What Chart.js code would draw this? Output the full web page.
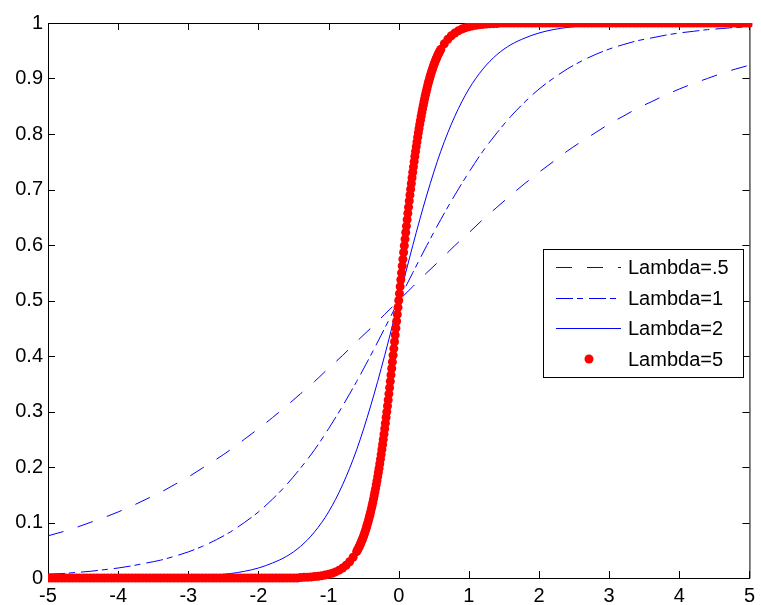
<!DOCTYPE html>
<html>
<head>
<meta charset="utf-8">
<script src="https://cdn.jsdelivr.net/npm/chart.js@4.4.1/dist/chart.umd.min.js"></script>
<style>
  html, body { margin: 0; padding: 0; background: #fff; }
  #wrap { width: 761px; height: 605px; }
</style>
</head>
<body>
<div id="wrap"><canvas id="chartSigmoid" width="761" height="605"></canvas></div>
<script>
// x samples for the three blue curves
const xs = [-5,-4.8,-4.6,-4.4,-4.2,-4,-3.8,-3.6,-3.4,-3.2,-3,-2.8,-2.6,-2.4,-2.2,-2,-1.8,-1.6,-1.4,-1.2,-1,-0.8,-0.6,-0.4,-0.2,
  0,0.2,0.4,0.6,0.8,1,1.2,1.4,1.6,1.8,2,2.2,2.4,2.6,2.8,3,3.2,3.4,3.6,3.8,4,4.2,4.4,4.6,4.8,5];

const lambdaHalf = [
  0.076,0.083,0.091,0.100,0.109,0.119,0.130,0.142,0.154,0.168,
  0.182,0.198,0.214,0.231,0.250,0.269,0.289,0.310,0.332,0.354,
  0.378,0.401,0.426,0.450,0.475,0.500,0.525,0.550,0.574,0.599,
  0.622,0.646,0.668,0.690,0.711,0.731,0.750,0.769,0.786,0.802,
  0.818,0.832,0.846,0.858,0.870,0.881,0.891,0.900,0.909,0.917,
  0.924];

const lambdaOne = [
  0.007,0.008,0.010,0.012,0.015,0.018,0.022,0.027,0.032,0.039,
  0.047,0.057,0.069,0.083,0.100,0.119,0.142,0.168,0.198,0.231,
  0.269,0.310,0.354,0.401,0.450,0.500,0.550,0.599,0.646,0.690,
  0.731,0.769,0.802,0.832,0.858,0.881,0.900,0.917,0.931,0.943,
  0.953,0.961,0.968,0.973,0.978,0.982,0.985,0.988,0.990,0.992,
  0.993];

const lambdaTwo = [
  0,0.0001,0.0001,0.0002,0.0002,0.0003,0.0005,0.0007,0.0011,0.0017,
  0.0025,0.0037,0.0055,0.008,0.012,0.018,0.027,0.039,0.057,0.083,
  0.119,0.168,0.231,0.310,0.401,0.500,0.599,0.690,0.769,0.832,
  0.881,0.917,0.943,0.961,0.973,0.982,0.988,0.992,0.9945,0.9963,
  0.9975,0.9983,0.9989,0.9993,0.9995,0.9997,1,1,1,1,
  1];

// red dots (Lambda=5), denser around the centre
const redX = [
  -5,-4.95,-4.9,-4.85,-4.8,-4.75,-4.7,-4.65,-4.6,-4.55,
  -4.5,-4.45,-4.4,-4.35,-4.3,-4.25,-4.2,-4.15,-4.1,-4.05,
  -4,-3.95,-3.9,-3.85,-3.8,-3.75,-3.7,-3.65,-3.6,-3.55,
  -3.5,-3.45,-3.4,-3.35,-3.3,-3.25,-3.2,-3.15,-3.1,-3.05,
  -3,-2.95,-2.9,-2.85,-2.8,-2.75,-2.7,-2.65,-2.6,-2.55,
  -2.5,-2.45,-2.4,-2.35,-2.3,-2.25,-2.2,-2.15,-2.1,-2.05,
  -2,-1.95,-1.9,-1.85,-1.8,-1.75,-1.7,-1.65,-1.6,-1.55,
  -1.5,-1.45,
  -1.4,-1.35,-1.3,-1.25,-1.2,-1.15,-1.1,-1.05,-1,-0.95,-0.9,-0.85,-0.8,-0.75,-0.7,-0.65,
  -0.6,-0.59,-0.58,-0.57,-0.56,-0.55,-0.54,-0.53,-0.52,-0.51,
  -0.5,-0.49,-0.48,-0.47,-0.46,-0.45,-0.44,-0.43,-0.42,-0.41,
  -0.4,-0.39,-0.38,-0.37,-0.36,-0.35,-0.34,-0.33,-0.32,-0.31,
  -0.3,-0.29,-0.28,-0.27,-0.26,-0.25,-0.24,-0.23,-0.22,-0.21,
  -0.2,-0.19,-0.18,-0.17,-0.16,-0.15,-0.14,-0.13,-0.12,-0.11,
  -0.1,-0.09,-0.08,-0.07,-0.06,-0.05,-0.04,-0.03,-0.02,-0.01,
  0,
  0.01,0.02,0.03,0.04,0.05,0.06,0.07,0.08,0.09,0.1,
  0.11,0.12,0.13,0.14,0.15,0.16,0.17,0.18,0.19,0.2,
  0.21,0.22,0.23,0.24,0.25,0.26,0.27,0.28,0.29,0.3,
  0.31,0.32,0.33,0.34,0.35,0.36,0.37,0.38,0.39,0.4,
  0.41,0.42,0.43,0.44,0.45,0.46,0.47,0.48,0.49,0.5,
  0.51,0.52,0.53,0.54,0.55,0.56,0.57,0.58,0.59,0.6,
  0.65,0.7,0.75,0.8,0.85,0.9,0.95,1,1.05,1.1,1.15,1.2,1.25,1.3,1.35,1.4,
  1.45,1.5,
  1.55,1.6,1.65,1.7,1.75,1.8,1.85,1.9,1.95,2,
  2.05,2.1,2.15,2.2,2.25,2.3,2.35,2.4,2.45,2.5,
  2.55,2.6,2.65,2.7,2.75,2.8,2.85,2.9,2.95,3,
  3.05,3.1,3.15,3.2,3.25,3.3,3.35,3.4,3.45,3.5,
  3.55,3.6,3.65,3.7,3.75,3.8,3.85,3.9,3.95,4,
  4.05,4.1,4.15,4.2,4.25,4.3,4.35,4.4,4.45,4.5,
  4.55,4.6,4.65,4.7,4.75,4.8,4.85,4.9,4.95,5];

const redY = [
  0,0,0,0,0,0,0,0,0,0,
  0,0,0,0,0,0,0,0,0,0,
  0,0,0,0,0,0,0,0,0,0,
  0,0,0,0,0,0,0,0,0,0,
  0,0,0,0,0,0,0,0,0,0,
  0,0,0,0,0,0,0,0,0,0,
  0,0,0,0,0,0,0,0,0,0,
  0,0,
  0.0009,0.0012,0.0015,0.0019,0.0025,0.0032,0.0041,0.0052,0.0067,0.0086,0.0110,0.0141,0.0180,0.0230,0.0293,0.0373,
  0.0474,0.0497,0.0522,0.0547,0.0573,0.0601,0.0630,0.0660,0.0691,0.0724,
  0.0759,0.0794,0.0832,0.0871,0.0911,0.0954,0.0998,0.1043,0.1091,0.1141,
  0.1192,0.1246,0.1301,0.1359,0.1419,0.1481,0.1545,0.1611,0.1680,0.1751,
  0.1824,0.1900,0.1978,0.2059,0.2142,0.2227,0.2315,0.2405,0.2497,0.2592,
  0.2689,0.2789,0.2891,0.2994,0.3100,0.3208,0.3318,0.3430,0.3543,0.3659,
  0.3775,0.3894,0.4013,0.4134,0.4256,0.4378,0.4502,0.4626,0.4750,0.4875,
  0.5,
  0.5125,0.5250,0.5374,0.5498,0.5622,0.5744,0.5866,0.5987,0.6106,0.6225,
  0.6341,0.6457,0.6570,0.6682,0.6792,0.6900,0.7006,0.7109,0.7211,0.7311,
  0.7408,0.7503,0.7595,0.7685,0.7773,0.7858,0.7941,0.8022,0.8100,0.8176,
  0.8249,0.8320,0.8389,0.8455,0.8519,0.8581,0.8641,0.8699,0.8754,0.8808,
  0.8859,0.8909,0.8957,0.9002,0.9046,0.9089,0.9129,0.9168,0.9206,0.9241,
  0.9276,0.9309,0.9340,0.9370,0.9399,0.9427,0.9453,0.9478,0.9503,0.9526,
  0.9627,0.9707,0.9770,0.9820,0.9859,0.9890,0.9914,0.9933,0.9948,0.9959,0.9968,0.9975,0.9981,0.9985,0.9988,0.9991,
  1,1,
  1,1,1,1,1,1,1,1,1,1,
  1,1,1,1,1,1,1,1,1,1,
  1,1,1,1,1,1,1,1,1,1,
  1,1,1,1,1,1,1,1,1,1,
  1,1,1,1,1,1,1,1,1,1,
  1,1,1,1,1,1,1,1,1,1,
  1,1,1,1,1,1,1,1,1,1];

const seriesLabels = ["Lambda=.5", "Lambda=1", "Lambda=2", "Lambda=5"];
const xTickLabels = ["-5","-4","-3","-2","-1","0","1","2","3","4","5"];
const yTickLabels = ["0","0.1","0.2","0.3","0.4","0.5","0.6","0.7","0.8","0.9","1"];

const FONT = "Liberation Sans";
const BLUE = "rgb(0,0,255)";
const RED = "rgb(255,0,0)";

const pts = (xv, yv) => xv.map((x, i) => ({ x: x, y: yv[i] }));

// matlab style box with inward ticks on all four sides
const framePlugin = {
  id: "frame",
  beforeDatasetsDraw(chart) {
    const { ctx, chartArea: a, scales: { x, y } } = chart;
    const len = 7;
    ctx.save();
    ctx.strokeStyle = "#000";
    ctx.lineWidth = 1;
    ctx.beginPath();
    ctx.rect(a.left + 0.5, a.top + 0.5, a.right - a.left, a.bottom - a.top);
    x.ticks.forEach((t) => {
      const px = Math.round(x.getPixelForValue(t.value)) + 0.5;
      ctx.moveTo(px, a.bottom); ctx.lineTo(px, a.bottom - len);
      ctx.moveTo(px, a.top); ctx.lineTo(px, a.top + len);
    });
    y.ticks.forEach((t) => {
      const py = Math.round(y.getPixelForValue(t.value)) + 0.5;
      ctx.moveTo(a.left, py); ctx.lineTo(a.left + len, py);
      ctx.moveTo(a.right, py); ctx.lineTo(a.right - len, py);
    });
    ctx.stroke();
    ctx.restore();
  },
};

// boxed legend inside the plot, right side
const legendPlugin = {
  id: "boxLegend",
  afterDraw(chart) {
    const ctx = chart.ctx;
    const bx = 543, by = 249, bw = 200, bh = 128;
    ctx.save();
    ctx.fillStyle = "#fff";
    ctx.fillRect(bx, by, bw, bh);
    ctx.strokeStyle = "#000";
    ctx.lineWidth = 1;
    ctx.strokeRect(bx + 0.5, by + 0.5, bw, bh);
    ctx.font = "20px '" + FONT + "'";
    ctx.textBaseline = "middle";
    chart.data.datasets.forEach((ds, i) => {
      const ry = Math.round(267 + i * 30.5);
      if (ds.showLine) {
        ctx.strokeStyle = ds.borderColor;
        ctx.lineWidth = 1;
        ctx.setLineDash(ds.borderDash || []);
        ctx.beginPath();
        ctx.moveTo(556, ry + 0.5);
        ctx.lineTo(621, ry + 0.5);
        ctx.stroke();
        ctx.setLineDash([]);
      } else {
        ctx.fillStyle = ds.pointBackgroundColor;
        ctx.beginPath();
        ctx.arc(589, ry, 4.5, 0, Math.PI * 2);
        ctx.fill();
      }
      ctx.fillStyle = "#000";
      ctx.fillText(ds.label, 628, ry + 1);
    });
    ctx.restore();
  },
};

const lineDs = (label, yv, dash) => ({
  label: label,
  data: pts(xs, yv),
  showLine: true,
  borderColor: BLUE,
  borderWidth: 1,
  borderDash: dash,
  pointRadius: 0,
  cubicInterpolationMode: "monotone",
  order: 1,
});

new Chart(document.getElementById("chartSigmoid"), {
  type: "scatter",
  data: {
    datasets: [
      lineDs(seriesLabels[0], lambdaHalf, [16, 15]),
      lineDs(seriesLabels[1], lambdaOne, [17, 4, 6, 6]),
      lineDs(seriesLabels[2], lambdaTwo, []),
      {
        label: seriesLabels[3],
        data: pts(redX, redY),
        showLine: false,
        pointRadius: 4.5,
        pointBorderWidth: 0,
        pointBackgroundColor: RED,
        pointBorderColor: RED,
        clip: { left: 0, top: 0, right: 3, bottom: 6 },
        order: 0,
      },
    ],
  },
  options: {
    responsive: false,
    animation: false,
    devicePixelRatio: 1,
    layout: { padding: { left: 0, top: 23, right: 9, bottom: 0 } },
    plugins: { legend: { display: false }, tooltip: { enabled: false } },
    scales: {
      x: {
        type: "linear",
        min: -5,
        max: 5,
        grid: { display: false, drawTicks: false },
        border: { display: false },
        afterFit: (s) => { s.height = 27; },
        ticks: {
          stepSize: 1,
          autoSkip: false,
          maxRotation: 0,
          padding: 6,
          color: "#000",
          font: { family: FONT, size: 20 },
          callback: (v, i) => xTickLabels[i],
        },
      },
      y: {
        type: "linear",
        min: 0,
        max: 1,
        grid: { display: false, drawTicks: false },
        border: { display: false },
        afterFit: (s) => { s.width = 48; },
        ticks: {
          stepSize: 0.1,
          autoSkip: false,
          padding: 5,
          color: "#000",
          font: { family: FONT, size: 20 },
          callback: (v, i) => yTickLabels[i],
        },
      },
    },
  },
  plugins: [framePlugin, legendPlugin],
});
</script>
</body>
</html>
